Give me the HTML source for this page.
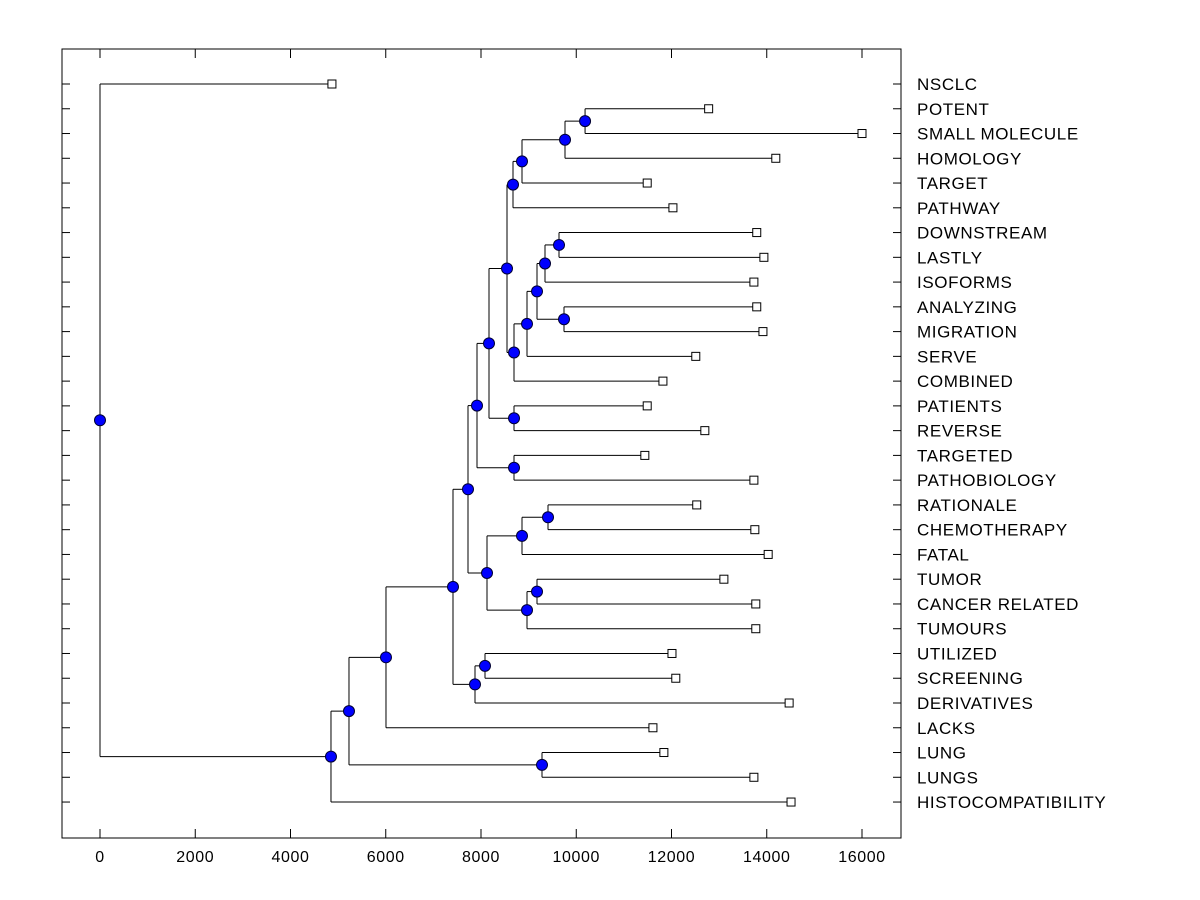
<!DOCTYPE html>
<html><head><meta charset="utf-8"><style>
html,body{margin:0;padding:0;background:#fff;}
svg{display:block;font-family:"Liberation Sans",Arial,sans-serif;}
</style></head><body>
<svg id="chart" width="1200" height="900" viewBox="0 0 1200 900"></svg>
<script>
const leafLabels = ["NSCLC","POTENT","SMALL MOLECULE","HOMOLOGY","TARGET","PATHWAY","DOWNSTREAM","LASTLY","ISOFORMS","ANALYZING","MIGRATION","SERVE","COMBINED","PATIENTS","REVERSE","TARGETED","PATHOBIOLOGY","RATIONALE","CHEMOTHERAPY","FATAL","TUMOR","CANCER RELATED","TUMOURS","UTILIZED","SCREENING","DERIVATIVES","LACKS","LUNG","LUNGS","HISTOCOMPATIBILITY"];
const leafValues = [4870,12780,16000,14190,11490,12030,13790,13940,13730,13790,13920,12510,11820,11490,12700,11440,13730,12530,13750,14030,13100,13770,13770,12010,12090,14470,11610,11840,13730,14510];
// internal nodes: [name, value, childA, childB]; children are leaf indices (numbers) or node names (strings)
const nodeNames = ["V","U","T","R","AA","Y","Z","X","W","S","P","Q","N","O","H","L","J","M","K","I","E","G","F","D","C","LG","B","A","ROOT"];
const nodeValues = [10185,9764,8861,8672,9638,9344,9743,9176,8966,8693,8546,8693,8168,8693,7916,9407,8861,9176,8966,8126,7727,8084,7874,7412,6005,9281,5228,4850,0];
const nodeChildren = [[1,2],["V",3],["U",4],["T",5],[6,7],["AA",8],[9,10],["Y","Z"],["X",11],["W",12],["R","S"],[13,14],["P","Q"],[15,16],["N","O"],[17,18],["L",19],[20,21],["M",22],["J","K"],["H","I"],[23,24],["G",25],["E","F"],["D",26],[27,28],["C","LG"],["B",29],[0,"A"]];
const xTicks = [0,2000,4000,6000,8000,10000,12000,14000,16000];

const NS="http://www.w3.org/2000/svg";
const svg=document.getElementById('chart');
const L=62,R=901,T=49,B=838;
const x=v=>100+v*(762/16000);
const y=i=>84+i*24.76;
function mk(tag,attrs,parent){const e=document.createElementNS(NS,tag);for(const k in attrs)e.setAttribute(k,attrs[k]);(parent||svg).appendChild(e);return e;}

const frame=mk('rect',{x:L,y:T,width:R-L,height:B-T,fill:'none',stroke:'#000','stroke-width':1});



const ticksG=mk('g',{stroke:'#000','stroke-width':1});


xTicks.forEach(t=>{
  mk('line',{x1:x(t),x2:x(t),y1:B,y2:B-9},ticksG);
  mk('line',{x1:x(t),x2:x(t),y1:T,y2:T+9},ticksG);
  const tx=mk('text',{x:x(t),y:862,'text-anchor':'middle','font-size':16,'letter-spacing':0.6,fill:'#000'});
  tx.textContent=t;
  
  
});
leafLabels.forEach((lab,i)=>{
  mk('line',{x1:L,x2:L+8,y1:y(i),y2:y(i)},ticksG);
  mk('line',{x1:R,x2:R-8,y1:y(i),y2:y(i)},ticksG);
  const tx=mk('text',{x:917,y:y(i)+6,'font-size':17,'letter-spacing':0.6,fill:'#000'});
  tx.textContent=lab;
  
  
});

const pos={};
leafValues.forEach((v,i)=>{pos[i]={x:x(v),y:y(i)};});
nodeNames.forEach((n,k)=>{
  const [a,b]=nodeChildren[k];
  pos[n]={x:x(nodeValues[k]),y:(pos[a].y+pos[b].y)/2};
});
const linesG=mk('g',{stroke:'#000','stroke-width':1,fill:'none'});


nodeNames.forEach((n,k)=>{
  const p=pos[n];const [a,b]=nodeChildren[k];
  mk('line',{x1:p.x,x2:p.x,y1:pos[a].y,y2:pos[b].y},linesG);
  [a,b].forEach(c=>mk('line',{x1:p.x,x2:pos[c].x,y1:pos[c].y,y2:pos[c].y},linesG));
});
leafValues.forEach((v,i)=>{
  const r=mk('rect',{x:pos[i].x-4,y:pos[i].y-4,width:8,height:8,fill:'#fff',stroke:'#000','stroke-width':1});
  
  
});
nodeNames.forEach(n=>{
  const c=mk('circle',{cx:pos[n].x,cy:pos[n].y,r:5.5,fill:'#0000ff',stroke:'#000033','stroke-width':1});
  
  
});
</script>
</body></html>
